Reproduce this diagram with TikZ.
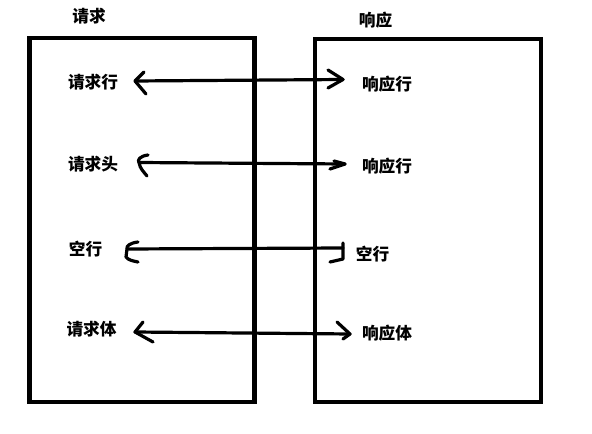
\documentclass[tikz,border=0pt]{standalone}
\usepackage{fontspec}
\newfontfamily\cjk{Noto Sans CJK SC}
\begin{document}
\begin{tikzpicture}[x=0.75pt,y=-0.75pt,
  lbl/.style={inner sep=0pt,font=\cjk\bfseries\fontsize{12.5}{14}\selectfont},
  boxline/.style={line width=3.4pt},
  conn/.style={line width=2.4pt,line cap=round,line join=round},
  tip/.style={line width=2.4pt,line cap=round,line join=round}]
\useasboundingbox (0,0) rectangle (592,434);
% boxes
\draw[boxline] (29.5,38) rectangle (254.5,402);
\draw[boxline] (315,39) rectangle (541,402);
% titles
\node[lbl] (req) at (89,16) {请求};
\node[lbl] (resp) at (375.5,20.5) {响应};
% labels
\node[lbl] (l1) at (93,82.5) {请求行};
\node[lbl] (r1) at (387,84.5) {响应行};
\node[lbl] (l2) at (93,164) {请求头};
\node[lbl] (r2) at (387,166) {响应行};
\node[lbl] (l3) at (85.5,249.5) {空行};
\node[lbl] (r3) at (372.5,254.5) {空行};
\node[lbl] (l4) at (91.5,329.5) {请求体};
\node[lbl] (r4) at (387,333) {响应体};
% arrow end points
\coordinate (a1) at (135,81);  \coordinate (b1) at (343,79.5);
\coordinate (a2) at (139,162.5); \coordinate (b2) at (345,164);
\coordinate (a3) at (127,249); \coordinate (b3) at (343,248);
\coordinate (a4) at (135,332); \coordinate (b4) at (350,334);
% connectors
\draw[conn] (a1) -- (b1);
\draw[conn] (a2) -- (b2);
\draw[conn] (a3) -- (b3);
\draw[conn] (a4) -- (b4);
% hand-drawn heads
\draw[tip] (144,72) -- (a1) -- (146,94);
\draw[tip] (328,70) -- (b1) -- (328,88);
\draw[tip] (148,155) .. controls (140,156) and (137,160) .. (a2) .. controls (140,169) and (144,172) .. (147,176);
\draw[tip] (334,161) -- (b2) -- (330,169);
\draw[tip] (138,242) .. controls (130,243) and (126,246) .. (a3) -- (126,257) .. controls (128,260) and (133,261) .. (138,262);
\draw[tip] (343,243) -- (b3) -- (343,259) -- (330,262);
\draw[tip] (143,322) -- (a4) -- (153,342);
\draw[tip] (337,322) -- (b4) -- (343,339);
\end{tikzpicture}
\end{document}
